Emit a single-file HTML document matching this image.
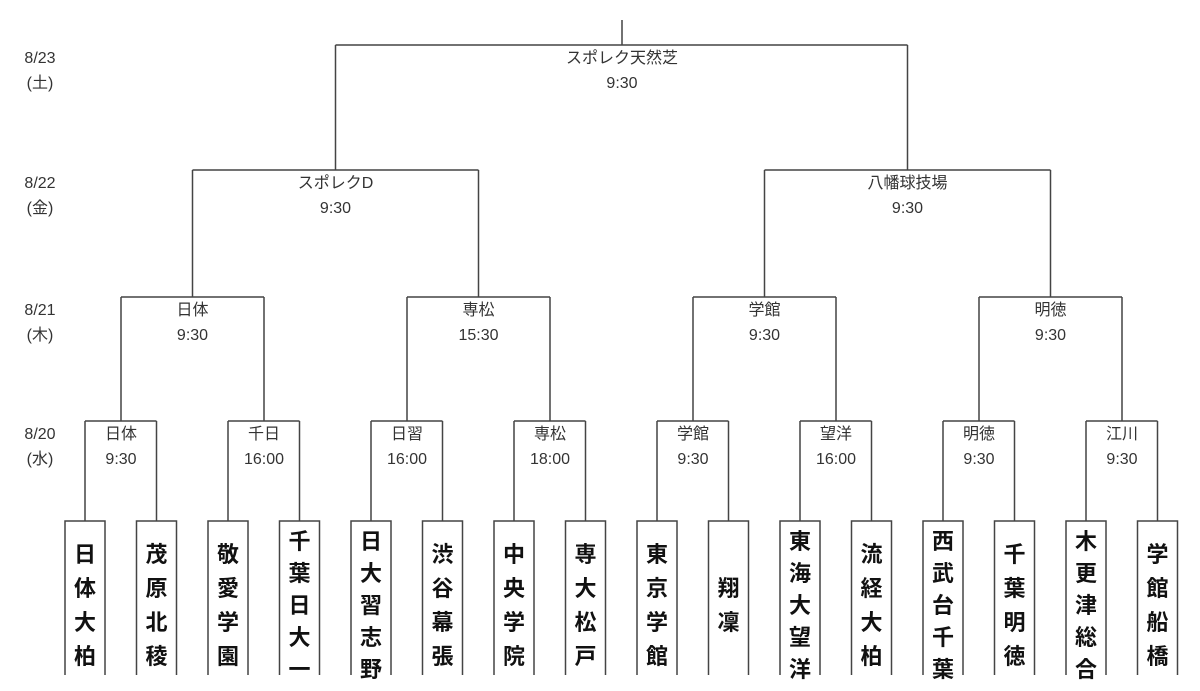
<!DOCTYPE html>
<html><head><meta charset="utf-8"><style>
html,body{margin:0;padding:0;background:#fff;}
body{width:1200px;height:675px;overflow:hidden;position:relative;font-family:"Liberation Sans","Noto Sans CJK JP",sans-serif;color:#333;}
.l{position:absolute;font-size:16px;text-align:center;width:120px;line-height:25px;}
.t{position:absolute;top:521px;width:40px;height:170px;display:flex;flex-direction:column;align-items:center;justify-content:center;font-weight:bold;font-size:22px;color:#111;box-sizing:border-box;}
.t span{display:block;height:34px;line-height:34px;}
.t.f span{height:32px;line-height:32px;}
svg{position:absolute;left:0;top:0;}
</style></head><body>
<svg width="1200" height="675" fill="none" stroke="#444" stroke-width="1.5">
<path d="M622 20V45M335.5 45H907.5M335.5 45V170M907.5 45V170"/>
<path d="M192.5 170H478.5M192.5 170V297M478.5 170V297M764.5 170H1050.5M764.5 170V297M1050.5 170V297"/>
<path d="M121 297H264M121 297V421M264 297V421M407 297H550M407 297V421M550 297V421M693 297H836M693 297V421M836 297V421M979 297H1122M979 297V421M1122 297V421"/>
<g id="r1"></g>
</svg>
<div id="c"></div>
<script>
var names=["日体大柏","茂原北稜","敬愛学園","千葉日大一","日大習志野","渋谷幕張","中央学院","専大松戸","東京学館","翔凜","東海大望洋","流経大柏","西武台千葉","千葉明徳","木更津総合","学館船橋"];
var s="",h="";
for(var i=0;i<8;i++){var a=85+i*2*71.5,b=a+71.5;s+='<path d="M'+a+' 421H'+b+'M'+a+' 421V521M'+b+' 421V521"/>';}
for(var i=0;i<16;i++){var c=85+i*71.5;s+='<rect x="'+(c-20)+'" y="521" width="40" height="200"/>';
var n=names[i];h+='<div class="t'+(n.length>4?' f':'')+'" style="left:'+(c-20)+'px">'+n.split('').map(function(x){return '<span>'+x+'</span>'}).join('')+'</div>';}
document.getElementById('r1').innerHTML=s;
var labels=[[622,45,"スポレク天然芝","9:30"],[335.5,170,"スポレクD","9:30"],[907.5,170,"八幡球技場","9:30"],
[192.5,297,"日体","9:30"],[478.5,297,"専松","15:30"],[764.5,297,"学館","9:30"],[1050.5,297,"明徳","9:30"],
[121,421,"日体","9:30"],[264,421,"千日","16:00"],[407,421,"日習","16:00"],[550,421,"専松","18:00"],[693,421,"学館","9:30"],[836,421,"望洋","16:00"],[979,421,"明徳","9:30"],[1122,421,"江川","9:30"]];
labels.forEach(function(l){h+='<div class="l" style="left:'+(l[0]-60)+'px;top:'+(l[1]+1)+'px">'+l[2]+'<br>'+l[3]+'</div>';});
[[45,"8/23","(土)"],[170,"8/22","(金)"],[297,"8/21","(木)"],[421,"8/20","(水)"]].forEach(function(d){h+='<div class="l" style="left:-20px;top:'+(d[0]+1)+'px">'+d[1]+'<br>'+d[2]+'</div>';});
document.getElementById('c').innerHTML=h;
</script>
</body></html>
